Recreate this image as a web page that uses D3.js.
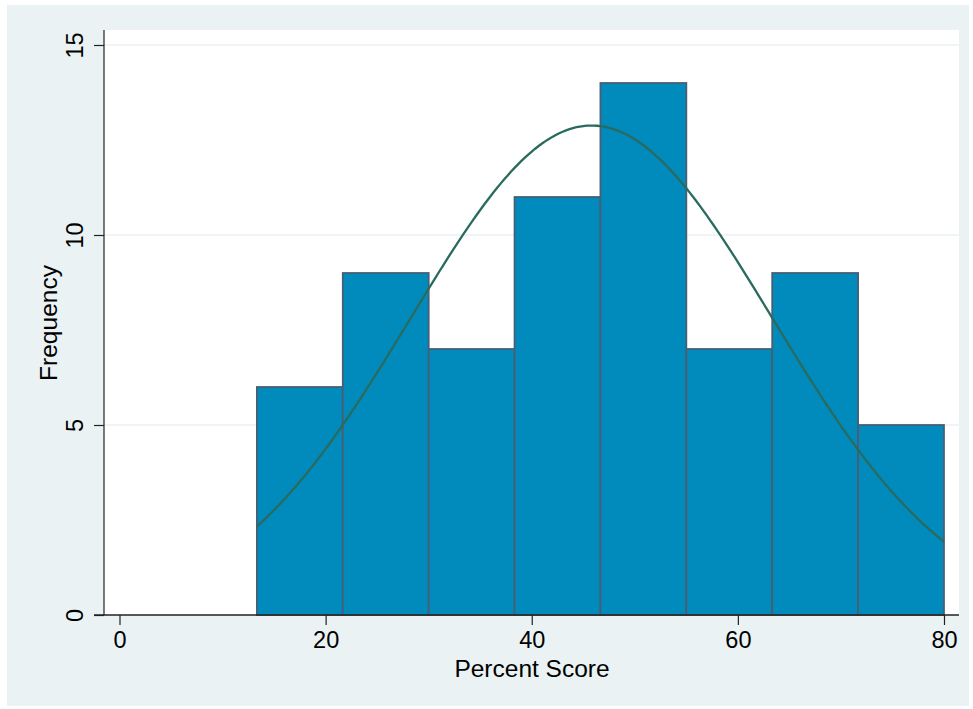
<!DOCTYPE html>
<html>
<head>
<meta charset="utf-8">
<script src="https://cdn.jsdelivr.net/npm/d3@7"></script>
<style>
  html, body { margin: 0; padding: 0; background: #ffffff; }
  svg { display: block; }
  text { font-family: "Liberation Sans", Arial, Helvetica, sans-serif; fill: #000; }
</style>
</head>
<body>
<svg id="chart" width="973" height="709"></svg>
<script>
// Histogram bins of percent scores (start, width) and their frequencies
const binStart = 13.333;
const binWidth = 8.333;
const frequencies = [6, 9, 7, 11, 14, 7, 9, 5];

// Normal density overlay parameters (mean, sd of the scores)
const normalMean = 45.8;
const normalSD = 17.55;

// Axis ticks
const xTicks = [0, 20, 40, 60, 80];
const yTicks = [0, 5, 10, 15];

const xLabel = "Percent Score";
const yLabel = "Frequency";

const svg = d3.select("#chart");

// graph region background
svg.append("rect")
  .attr("x", 7).attr("y", 5)
  .attr("width", 962).attr("height", 701)
  .attr("fill", "#eaf2f3");

// plot region
const plot = { left: 104, right: 959, top: 30, bottom: 615 };
svg.append("rect")
  .attr("x", plot.left).attr("y", plot.top)
  .attr("width", plot.right - plot.left).attr("height", plot.bottom - plot.top)
  .attr("fill", "#ffffff");

const x = d3.scaleLinear().domain([0, 80]).range([119.5, 944]);
const y = d3.scaleLinear().domain([0, 15]).range([615, 45]);

// horizontal grid lines
svg.append("g")
  .selectAll("line")
  .data(yTicks.filter(d => d > 0))
  .join("line")
  .attr("x1", plot.left).attr("x2", plot.right)
  .attr("y1", d => y(d)).attr("y2", d => y(d))
  .attr("stroke", "#eaf2f3")
  .attr("stroke-width", 1.5);

// bars
const bins = frequencies.map((f, i) => ({
  x0: binStart + i * binWidth,
  x1: binStart + (i + 1) * binWidth,
  f
}));

svg.append("g")
  .selectAll("rect")
  .data(bins)
  .join("rect")
  .attr("x", d => x(d.x0))
  .attr("y", d => y(d.f))
  .attr("width", d => x(d.x1) - x(d.x0))
  .attr("height", d => y(0) - y(d.f))
  .attr("fill", "#008bbc")
  .attr("stroke", "#475f75")
  .attr("stroke-width", 1.8);

// normal curve scaled to frequency: N * binWidth * pdf
const N = d3.sum(frequencies);
const xMin = binStart, xMax = binStart + frequencies.length * binWidth;
const curvePts = d3.range(0, 201).map(i => {
  const xv = xMin + (xMax - xMin) * i / 200;
  const z = (xv - normalMean) / normalSD;
  return [xv, N * binWidth * Math.exp(-0.5 * z * z) / (normalSD * Math.sqrt(2 * Math.PI))];
});

svg.append("path")
  .datum(curvePts)
  .attr("fill", "none")
  .attr("stroke", "#2a6b5f")
  .attr("stroke-width", 2.3)
  .attr("d", d3.line().x(d => x(d[0])).y(d => y(d[1])));

// axes
const xAxis = d3.axisBottom(x).tickValues(xTicks).tickSize(10).tickPadding(6).tickFormat(d3.format("d"));
const gx = svg.append("g").attr("transform", `translate(0,${plot.bottom})`).call(xAxis);
gx.select(".domain").remove();
gx.selectAll(".tick line").attr("stroke", "#222").attr("stroke-width", 1.2);
gx.selectAll(".tick text").style("font-size", "23.5px").attr("font-family", null);

const yAxis = d3.axisLeft(y).tickValues(yTicks).tickSize(10).tickPadding(0).tickFormat(d3.format("d"));
const gy = svg.append("g").attr("transform", `translate(${plot.left},0)`).call(yAxis);
gy.select(".domain").remove();
gy.selectAll(".tick line").attr("stroke", "#222").attr("stroke-width", 1.2);
gy.selectAll(".tick text")
  .style("font-size", "23.5px")
  .attr("font-family", null)
  .attr("text-anchor", "middle")
  .attr("dy", null)
  .attr("x", 0)
  .attr("y", 0)
  .attr("transform", "translate(-21,0) rotate(-90)");

// axis lines
svg.append("line")
  .attr("x1", plot.left).attr("x2", plot.left)
  .attr("y1", plot.top).attr("y2", plot.bottom)
  .attr("stroke", "#222").attr("stroke-width", 1.2);
svg.append("line")
  .attr("x1", plot.left - 10).attr("x2", plot.right)
  .attr("y1", plot.bottom).attr("y2", plot.bottom)
  .attr("stroke", "#222").attr("stroke-width", 1.5);

// axis titles
svg.append("text")
  .attr("x", 532).attr("y", 677)
  .attr("text-anchor", "middle")
  .style("font-size", "24.5px")
  .text(xLabel);

svg.append("text")
  .attr("transform", "translate(57,323) rotate(-90)")
  .attr("text-anchor", "middle")
  .style("font-size", "24.5px")
  .text(yLabel);
</script>
</body>
</html>
